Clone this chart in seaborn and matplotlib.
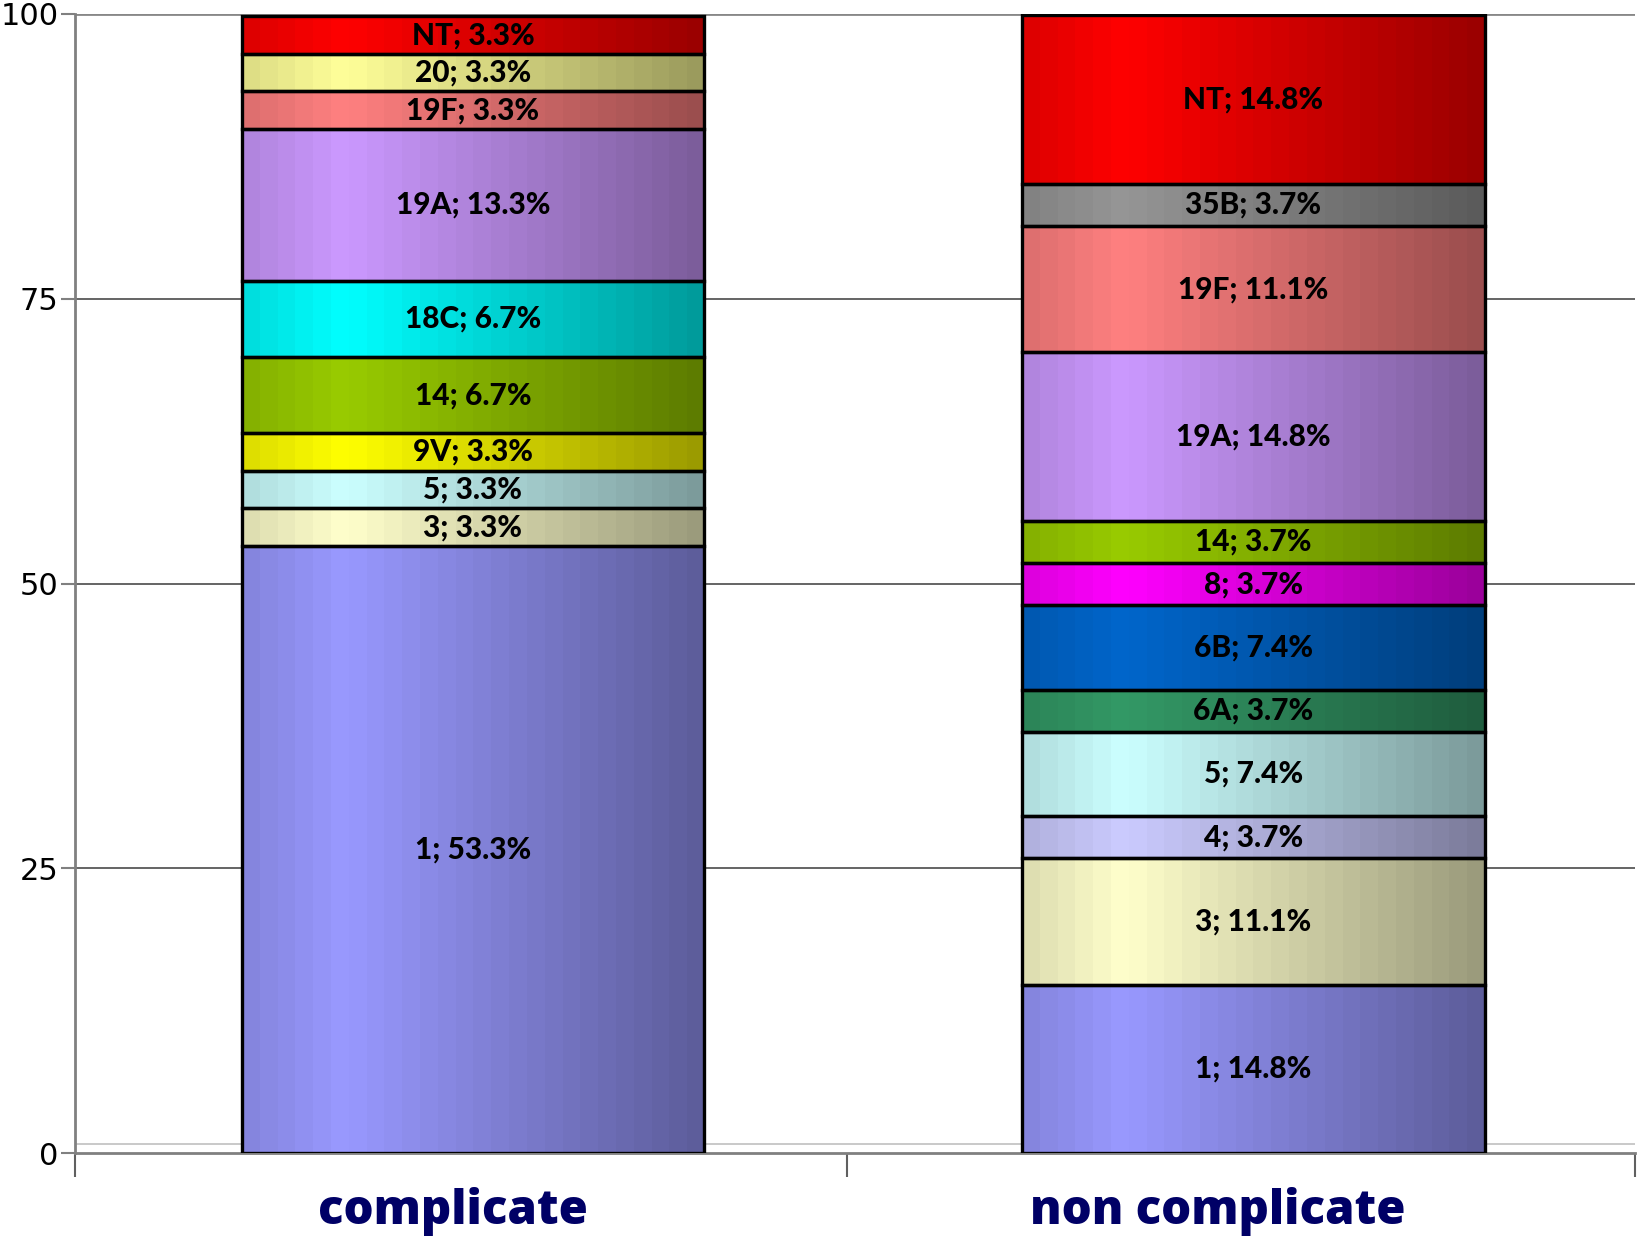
import numpy as np
import pandas as pd
import matplotlib
matplotlib.use("Agg")
import matplotlib.pyplot as plt
import matplotlib.colors as mcolors
import seaborn as sns

# Serotype distribution (%) per group, listed bottom to top
groups = ["complicate", "non complicate"]

comp_serotypes = ["1", "3", "5", "9V", "14", "18C", "19A", "19F", "20", "NT"]
comp_values = [53.3, 3.3, 3.3, 3.3, 6.7, 6.7, 13.3, 3.3, 3.3, 3.3]

noncomp_serotypes = ["1", "3", "4", "5", "6A", "6B", "8", "14", "19A", "19F", "35B", "NT"]
noncomp_values = [14.8, 11.1, 3.7, 7.4, 3.7, 7.4, 3.7, 3.7, 14.8, 11.1, 3.7, 14.8]

serotype_colors = {
    "1": "#9999FF", "3": "#FFFFCC", "4": "#CCCCFF", "5": "#CCFFFF",
    "6A": "#339966", "6B": "#0066CC", "8": "#FF00FF", "9V": "#FFFF00",
    "14": "#99CC00", "18C": "#00FFFF", "19A": "#CC99FF", "19F": "#FF8080",
    "20": "#FFFF99", "35B": "#969696", "NT": "#FF0000",
}

rows = []
for grp, names, vals in [(groups[0], comp_serotypes, comp_values),
                         (groups[1], noncomp_serotypes, noncomp_values)]:
    base = 0.0
    for n, v in zip(names, vals):
        rows.append({"group": grp, "serotype": n, "pct": v, "base": base})
        base += v
df = pd.DataFrame(rows)

sns.set_theme(style="white")
plt.rcParams["font.family"] = ["DejaVu Sans"]

fig = plt.figure(figsize=(16.52, 12.36), dpi=100)
ax = fig.add_axes([0.0454, 0.067, 0.9446, 0.9217])

bar_width = 0.593
segments = []
for _, r in df.iterrows():
    n_before = len(ax.patches)
    sns.barplot(x=[r["group"]], y=[r["pct"]], order=groups, ax=ax,
                bottom=r["base"], width=bar_width,
                color=serotype_colors[r["serotype"]],
                edgecolor="black", linewidth=2.4, saturation=1, errorbar=None)
    for p in ax.patches[n_before:]:
        if p.get_height() > 0:
            segments.append((p, r))

# horizontal shading across each segment (light near left, darker to the right)
n_steps = 26
t = (np.arange(n_steps) + 0.5) / n_steps
shade = np.where(t < 0.22, 0.86 + (1.0 - 0.86) * t / 0.22,
                 1.0 - (1.0 - 0.6) * (t - 0.22) / 0.78)
for p, r in segments:
    rgb = np.array(mcolors.to_rgb(serotype_colors[r["serotype"]]))
    img = (shade[:, None] * rgb[None, :])[None, :, :]
    x0, y0 = p.get_x(), p.get_y()
    w, h = p.get_width(), p.get_height()
    ax.imshow(img, extent=(x0, x0 + w, y0, y0 + h), aspect="auto",
              interpolation="nearest", zorder=2)
    p.set_facecolor((0, 0, 0, 0))
    p.set_zorder(3)
    ax.text(x0 + w / 2, y0 + h / 2, f"{r['serotype']}; {r['pct']:.1f}%",
            ha="center", va="center", fontsize=21.5, fontweight="black",
            color="black", family=["Lato", "DejaVu Sans"], zorder=4)

ax.set_xlim(-0.51, 1.49)
ax.set_ylim(0, 100)
ax.set_xlabel("")
ax.set_ylabel("")

# gridlines and a faint floor line
for v in [25, 50, 75]:
    ax.axhline(v, color="#3a3a3a", lw=1.1, zorder=1)
ax.axhline(100, color="#888888", lw=2, zorder=1)
ax.axhline(0.8, color="#c0c0c0", lw=1.2, zorder=1)

for s in ["top", "right"]:
    ax.spines[s].set_visible(False)
for s in ["left", "bottom"]:
    ax.spines[s].set_color("#808080")
    ax.spines[s].set_linewidth(2)

ax.set_yticks([0, 25, 50, 75, 100])
ax.tick_params(axis="y", which="major", direction="out", length=10, width=1.5,
               color="#808080", labelsize=22, pad=2, left=True)
for lbl in ax.get_yticklabels():
    lbl.set_color("black")

# group names sit slightly left of the bar centres
ax.set_xticks([-0.025, 0.954])
ax.set_xticklabels(groups)
ax.set_xticks([-0.51, 0.48, 1.49], minor=True)
ax.tick_params(axis="x", which="major", length=0, pad=24)
ax.tick_params(axis="x", which="minor", direction="out", length=17, width=1.5,
               color="#606060", bottom=True)
for lbl in ax.get_xticklabels():
    lbl.set_fontsize(34)
    lbl.set_fontweight("heavy")
    lbl.set_color("#000066")
    lbl.set_family(["Open Sans", "DejaVu Sans"])

fig.savefig("out.png", dpi=100)
